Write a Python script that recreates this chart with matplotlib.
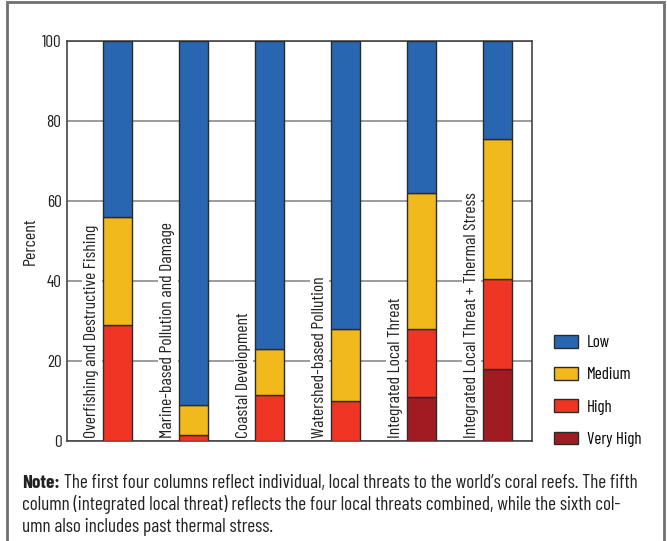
import matplotlib
matplotlib.use('Agg')
import matplotlib.pyplot as plt
from matplotlib.patches import Rectangle, Patch

plt.rcParams['font.family'] = ['Barlow Condensed', 'DejaVu Sans']

## Data (percent of reefs per threat level)
categories = ['Overfishing and Destructive Fishing',
              'Marine-based Pollution and Damage',
              'Coastal Development',
              'Watershed-based Pollution',
              'Integrated Local Threat',
              'Integrated Local Threat + Thermal Stress']
very_high = [0, 0, 0, 0, 11, 18]
high = [29, 1.5, 11.5, 10, 17, 22.5]
medium = [27, 7.5, 11.5, 18, 34, 35]
low = [44, 91, 77, 72, 38, 24.5]
yticks = [0, 20, 40, 60, 80, 100]

levels = ['Low', 'Medium', 'High', 'Very High']
colors = {'Low': '#2966b1', 'Medium': '#f2b91d', 'High': '#ef3524', 'Very High': '#a01c22'}
note_bold = 'Note:'
note_lines = [' The first four columns reflect individual, local threats to the world\u2019s coral reefs. The fifth',
              'column (integrated local threat) reflects the four local threats combined, while the sixth col-',
              'umn also includes past thermal stress.']

W, H = 667, 541
fig = plt.figure(figsize=(W / 100, H / 100), dpi=100)
ax = fig.add_axes([67 / W, 1 - 441 / H, 465 / W, 400 / H])

x = list(range(len(categories)))
bw = 0.38
series = [('Very High', very_high), ('High', high), ('Medium', medium), ('Low', low)]
bottom = [0] * len(categories)
for name, vals in series:
    ax.bar(x, vals, bw, bottom=bottom, color=colors[name], edgecolor='#2b2b2b', lw=1, zorder=3)
    bottom = [b + v for b, v in zip(bottom, vals)]

for i, cat in enumerate(categories):
    ax.text(i - 0.342, 0.8, cat, rotation=90, ha='center', va='bottom', fontsize=12.7,
            color='#222222', zorder=2,
            bbox=dict(facecolor='white', edgecolor='none', pad=1.5))

ax.set_xlim(-0.67, 5.45)
ax.set_ylim(0, 100)
ax.set_yticks(yticks)
ax.set_xticks([])
ax.tick_params(axis='y', length=0, pad=4, labelsize=12.5, labelcolor='#222222')
ax.yaxis.grid(True, color='#8a8a8a', lw=1.2, zorder=1)
ax.set_axisbelow(True)
for s in ax.spines.values():
    s.set_color('#444444')
    s.set_linewidth(1.2)
ax.set_ylabel('Percent', fontsize=13, color='#222222', labelpad=3)

handles = [Patch(facecolor=colors[l], edgecolor='#2b2b2b', lw=1, label=l) for l in levels]
fig.legend(handles=handles, loc='upper left', bbox_to_anchor=(554 / W, 1 - 335 / H),
           frameon=False, fontsize=12.2, handlelength=1.4, handleheight=0.78,
           handletextpad=0.55, labelspacing=1.0, borderpad=0, borderaxespad=0)

# note below the chart
t1 = fig.text(22 / W, 1 - 488 / H, note_bold, fontsize=13.8, fontweight='bold', va='baseline', color='#222222')
ax.annotate(note_lines[0], xy=(1, 0), xycoords=t1, va='bottom', ha='left', fontsize=13.8, color='#222222')
fig.text(22 / W, 1 - 510 / H, note_lines[1], fontsize=13.8, va='baseline', color='#222222')
fig.text(22 / W, 1 - 532 / H, note_lines[2], fontsize=13.8, va='baseline', color='#222222')

# outer frame
fig.add_artist(Rectangle((7 / W, -0.02), 657 / W, 1.02 - 1.5 / H, transform=fig.transFigure,
                         fill=False, edgecolor='#707070', lw=2))

fig.savefig('out.png', dpi=100)
